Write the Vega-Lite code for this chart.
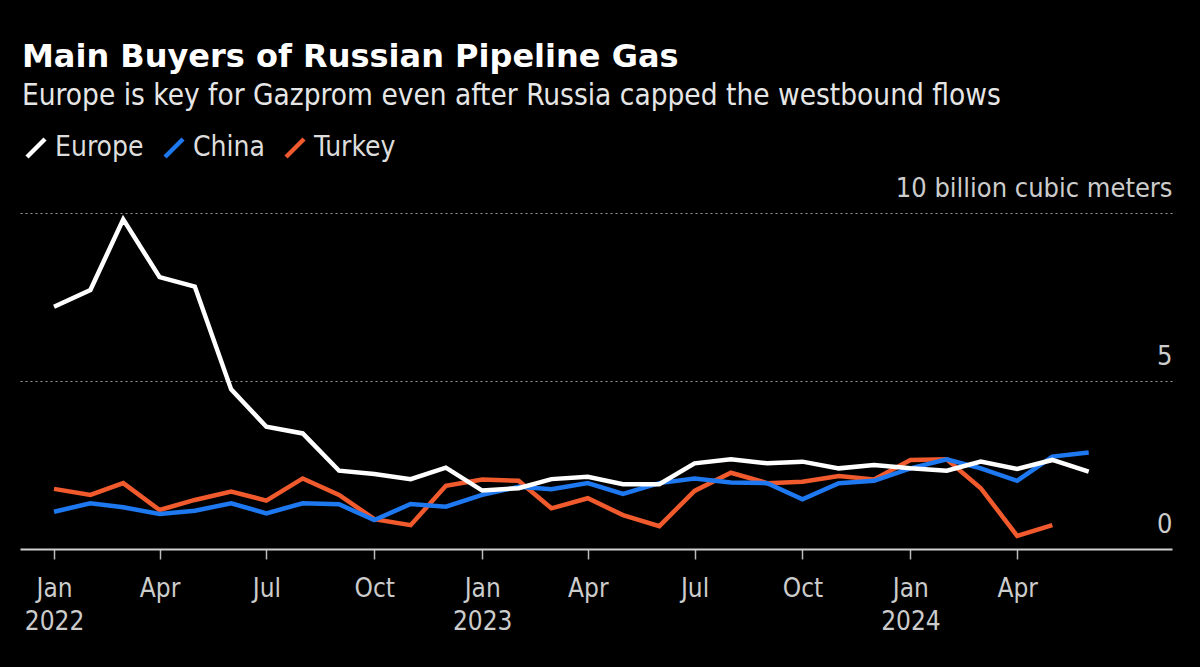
{
  "$schema": "https://vega.github.io/schema/vega-lite/v6.json",
  "width": 1152,
  "height": 336,
  "autosize": {"type": "none"},
  "padding": {"left": 20, "top": 213, "right": 28, "bottom": 118},
  "background": "#000000",
  "title": {
    "text": "Main Buyers of Russian Pipeline Gas",
    "subtitle": "Europe is key for Gazprom even after Russia capped the westbound flows",
    "anchor": "start",
    "frame": "group",
    "font": "DejaVu Sans",
    "fontSize": 32,
    "fontWeight": "bold",
    "color": "#ffffff",
    "subtitleFont": "DejaVu Sans Condensed",
    "subtitleFontSize": 29.5,
    "subtitleColor": "#e6e6e6",
    "subtitlePadding": 8,
    "offset": 23,
    "dx": 2
  },
  "config": {
    "view": {"stroke": null},
    "font": "DejaVu Sans Condensed"
  },
  "data": {
    "values": [
      {"date": "2022-01-01", "country": "Turkey", "value": 1.79},
      {"date": "2022-02-01", "country": "Turkey", "value": 1.61},
      {"date": "2022-03-01", "country": "Turkey", "value": 1.96},
      {"date": "2022-04-01", "country": "Turkey", "value": 1.16},
      {"date": "2022-05-01", "country": "Turkey", "value": 1.46},
      {"date": "2022-06-01", "country": "Turkey", "value": 1.71},
      {"date": "2022-07-01", "country": "Turkey", "value": 1.44},
      {"date": "2022-08-01", "country": "Turkey", "value": 2.10},
      {"date": "2022-09-01", "country": "Turkey", "value": 1.61},
      {"date": "2022-10-01", "country": "Turkey", "value": 0.89},
      {"date": "2022-11-01", "country": "Turkey", "value": 0.71},
      {"date": "2022-12-01", "country": "Turkey", "value": 1.88},
      {"date": "2023-01-01", "country": "Turkey", "value": 2.07},
      {"date": "2023-02-01", "country": "Turkey", "value": 2.03},
      {"date": "2023-03-01", "country": "Turkey", "value": 1.21},
      {"date": "2023-04-01", "country": "Turkey", "value": 1.51},
      {"date": "2023-05-01", "country": "Turkey", "value": 1.01},
      {"date": "2023-06-01", "country": "Turkey", "value": 0.68},
      {"date": "2023-07-01", "country": "Turkey", "value": 1.73},
      {"date": "2023-08-01", "country": "Turkey", "value": 2.27},
      {"date": "2023-09-01", "country": "Turkey", "value": 1.96},
      {"date": "2023-10-01", "country": "Turkey", "value": 2.00},
      {"date": "2023-11-01", "country": "Turkey", "value": 2.17},
      {"date": "2023-12-01", "country": "Turkey", "value": 2.07},
      {"date": "2024-01-01", "country": "Turkey", "value": 2.65},
      {"date": "2024-02-01", "country": "Turkey", "value": 2.67},
      {"date": "2024-03-01", "country": "Turkey", "value": 1.81},
      {"date": "2024-04-01", "country": "Turkey", "value": 0.39},
      {"date": "2024-05-01", "country": "Turkey", "value": 0.71},
      {"date": "2022-01-01", "country": "China", "value": 1.11},
      {"date": "2022-02-01", "country": "China", "value": 1.36},
      {"date": "2022-03-01", "country": "China", "value": 1.24},
      {"date": "2022-04-01", "country": "China", "value": 1.04},
      {"date": "2022-05-01", "country": "China", "value": 1.14},
      {"date": "2022-06-01", "country": "China", "value": 1.36},
      {"date": "2022-07-01", "country": "China", "value": 1.06},
      {"date": "2022-08-01", "country": "China", "value": 1.36},
      {"date": "2022-09-01", "country": "China", "value": 1.33},
      {"date": "2022-10-01", "country": "China", "value": 0.86},
      {"date": "2022-11-01", "country": "China", "value": 1.34},
      {"date": "2022-12-01", "country": "China", "value": 1.26},
      {"date": "2023-01-01", "country": "China", "value": 1.61},
      {"date": "2023-02-01", "country": "China", "value": 1.85},
      {"date": "2023-03-01", "country": "China", "value": 1.78},
      {"date": "2023-04-01", "country": "China", "value": 1.96},
      {"date": "2023-05-01", "country": "China", "value": 1.64},
      {"date": "2023-06-01", "country": "China", "value": 1.96},
      {"date": "2023-07-01", "country": "China", "value": 2.10},
      {"date": "2023-08-01", "country": "China", "value": 1.98},
      {"date": "2023-09-01", "country": "China", "value": 1.96},
      {"date": "2023-10-01", "country": "China", "value": 1.48},
      {"date": "2023-11-01", "country": "China", "value": 1.96},
      {"date": "2023-12-01", "country": "China", "value": 2.03},
      {"date": "2024-01-01", "country": "China", "value": 2.40},
      {"date": "2024-02-01", "country": "China", "value": 2.67},
      {"date": "2024-03-01", "country": "China", "value": 2.40},
      {"date": "2024-04-01", "country": "China", "value": 2.03},
      {"date": "2024-05-01", "country": "China", "value": 2.75},
      {"date": "2024-06-01", "country": "China", "value": 2.87},
      {"date": "2022-01-01", "country": "Europe", "value": 7.21},
      {"date": "2022-02-01", "country": "Europe", "value": 7.71},
      {"date": "2022-03-01", "country": "Europe", "value": 9.81},
      {"date": "2022-04-01", "country": "Europe", "value": 8.09},
      {"date": "2022-05-01", "country": "Europe", "value": 7.81},
      {"date": "2022-06-01", "country": "Europe", "value": 4.75},
      {"date": "2022-07-01", "country": "Europe", "value": 3.64},
      {"date": "2022-08-01", "country": "Europe", "value": 3.44},
      {"date": "2022-09-01", "country": "Europe", "value": 2.33},
      {"date": "2022-10-01", "country": "Europe", "value": 2.23},
      {"date": "2022-11-01", "country": "Europe", "value": 2.08},
      {"date": "2022-12-01", "country": "Europe", "value": 2.42},
      {"date": "2023-01-01", "country": "Europe", "value": 1.74},
      {"date": "2023-02-01", "country": "Europe", "value": 1.81},
      {"date": "2023-03-01", "country": "Europe", "value": 2.08},
      {"date": "2023-04-01", "country": "Europe", "value": 2.15},
      {"date": "2023-05-01", "country": "Europe", "value": 1.93},
      {"date": "2023-06-01", "country": "Europe", "value": 1.93},
      {"date": "2023-07-01", "country": "Europe", "value": 2.55},
      {"date": "2023-08-01", "country": "Europe", "value": 2.67},
      {"date": "2023-09-01", "country": "Europe", "value": 2.55},
      {"date": "2023-10-01", "country": "Europe", "value": 2.60},
      {"date": "2023-11-01", "country": "Europe", "value": 2.40},
      {"date": "2023-12-01", "country": "Europe", "value": 2.50},
      {"date": "2024-01-01", "country": "Europe", "value": 2.40},
      {"date": "2024-02-01", "country": "Europe", "value": 2.33},
      {"date": "2024-03-01", "country": "Europe", "value": 2.60},
      {"date": "2024-04-01", "country": "Europe", "value": 2.38},
      {"date": "2024-05-01", "country": "Europe", "value": 2.65},
      {"date": "2024-06-01", "country": "Europe", "value": 2.30}
    ]
  },
  "mark": {"type": "line", "strokeWidth": 4.5},
  "encoding": {
    "x": {
      "field": "date",
      "type": "temporal",
      "scale": {
        "type": "utc",
        "domain": [
          {"year": 2021, "month": 12, "date": 3, "utc": true},
          {"year": 2024, "month": 8, "date": 11, "utc": true}
        ]
      },
      "axis": {
        "title": null,
        "values": [
          {"year": 2022, "month": 1, "date": 1, "utc": true},
          {"year": 2022, "month": 4, "date": 1, "utc": true},
          {"year": 2022, "month": 7, "date": 1, "utc": true},
          {"year": 2022, "month": 10, "date": 1, "utc": true},
          {"year": 2023, "month": 1, "date": 1, "utc": true},
          {"year": 2023, "month": 4, "date": 1, "utc": true},
          {"year": 2023, "month": 7, "date": 1, "utc": true},
          {"year": 2023, "month": 10, "date": 1, "utc": true},
          {"year": 2024, "month": 1, "date": 1, "utc": true},
          {"year": 2024, "month": 4, "date": 1, "utc": true}
        ],
        "labelExpr": "utcFormat(datum.value, '%m') == '01' ? [utcFormat(datum.value, '%b'), utcFormat(datum.value, '%Y')] : utcFormat(datum.value, '%b')",
        "labelFontSize": 26,
        "labelColor": "#cccccc",
        "labelPadding": 16,
        "labelLineHeight": 33,
        "labelFlush": false,
        "labelOverlap": false,
        "labelAlign": "center",
        "grid": false,
        "domainColor": "#cfcfcf",
        "domainWidth": 2,
        "tickColor": "#bbbbbb",
        "tickSize": 10,
        "tickWidth": 1.5
      }
    },
    "y": {
      "field": "value",
      "type": "quantitative",
      "scale": {"domain": [0, 10], "nice": false},
      "axis": {
        "title": null,
        "orient": "right",
        "values": [0, 5, 10],
        "domain": false,
        "ticks": false,
        "tickSize": 0,
        "grid": true,
        "gridDash": [2, 3],
        "gridColor": "#999999",
        "gridWidth": 1,
        "gridOpacity": {"condition": {"test": "datum.value === 0", "value": 0}, "value": 1},
        "labelAlign": "right",
        "labelBaseline": "alphabetic",
        "labelPadding": 0,
        "labelOffset": -17,
        "labelFontSize": 27,
        "labelLimit": 0,
        "labelColor": "#cccccc",
        "labelExpr": "datum.value == 10 ? '10 billion cubic meters' : datum.label"
      }
    },
    "color": {
      "field": "country",
      "type": "nominal",
      "scale": {
        "domain": ["Europe", "China", "Turkey"],
        "range": ["#ffffff", "#1e78f0", "#f05a2d"]
      },
      "legend": {
        "orient": "none",
        "legendX": 2,
        "legendY": -79,
        "direction": "horizontal",
        "title": null,
        "symbolType": "M-1,1L1,-1",
        "symbolSize": 324,
        "symbolStrokeWidth": 4.5,
        "labelFontSize": 28,
        "labelColor": "#dddddd",
        "columnPadding": 12,
        "labelOffset": 5
      }
    }
  }
}
